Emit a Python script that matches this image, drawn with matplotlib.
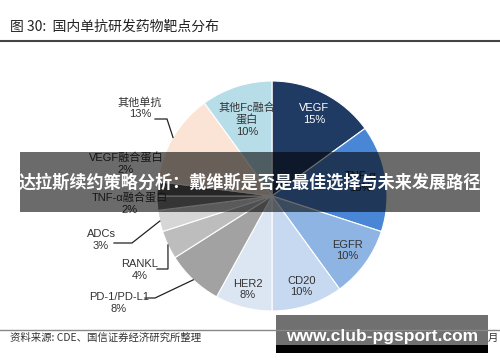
import numpy as np
import matplotlib
matplotlib.use("Agg")
import matplotlib.pyplot as plt
from matplotlib.patches import Rectangle

plt.rcParams['font.family'] = ['Liberation Sans', 'Noto Sans CJK SC', 'DejaVu Sans']

# ---- data ----
categories = ["VEGF", "TNF-α", "EGFR", "CD20", "HER2", "PD-1/PD-L1", "RANKL",
              "ADCs", "TNF-α融合蛋白", "VEGF融合蛋白", "其他单抗", "其他Fc融合蛋白"]
shares = [15, 15, 10, 10, 8, 8, 4, 3, 2, 2, 13, 10]
colors = ["#1F3B64", "#4A86D6", "#8EB4E3", "#C6D9F0", "#DCE6F2", "#A2A2A2",
          "#BDBDBD", "#D6D6D6", "#7F7F7F", "#5C5C5C", "#FBE4D5", "#B7DDE8"]
title = "图 30:  国内单抗研发药物靶点分布"
source = "资料来源: CDE、国信证券经济研究所整理"
banner = "达拉斯续约策略分析：戴维斯是否是最佳选择与未来发展路径"
watermark = "www.club-pgsport.com"

W, H = 500, 362
CX, CY, R = 272, 196, 115

fig = plt.figure(figsize=(W / 100, H / 100), dpi=100)
fig.patch.set_facecolor("white")

pax = fig.add_axes([(CX - R) / W, (H - CY - R) / H, 2 * R / W, 2 * R / H])
wedges, _ = pax.pie(shares, colors=colors, startangle=90, counterclock=False,
                    radius=1, wedgeprops=dict(edgecolor="white", linewidth=0.8))
pax.set_xlim(-1, 1)
pax.set_ylim(-1, 1)
pax.axis("off")


def px2d(px, py):
    return (px - CX) / R, (CY - py) / R


def mid(w, r):
    a = np.deg2rad((w.theta1 + w.theta2) / 2)
    return r * np.cos(a), r * np.sin(a)


# inner labels
inner = {"VEGF": (0.8, "white", "VEGF\n15%"),
         "TNF-α": (0.78, "#1a1a1a", "TNF-α\n15%"),
         "EGFR": (0.81, "#333333", "EGFR\n10%"),
         "CD20": (0.83, "#333333", "CD20\n10%"),
         "HER2": (0.84, "#333333", "HER2\n8%"),
         "其他Fc融合蛋白": (0.7, "#333333", "其他Fc融合\n蛋白\n10%")}
for w, cat, s in zip(wedges, categories, shares):
    if cat in inner:
        r, c, t = inner[cat]
        x, y = mid(w, r)
        pax.text(x, y, t, ha="center", va="center", fontsize=8, color=c,
                 linespacing=1.15)

# outer labels (pixel positions) and leader elbows
outer = {"其他单抗": ((140, 108), [(155, 119), (167, 119)]),
         "VEGF融合蛋白": ((126, 164), None),
         "TNF-α融合蛋白": ((130, 204), None),
         "ADCs": ((101, 240), [(114, 243), (132, 243)]),
         "RANKL": ((140, 270), [(157, 269), (168, 269)]),
         "PD-1/PD-L1": ((119, 303), [(145, 298), (155, 298)])}
for w, cat, s in zip(wedges, categories, shares):
    if cat in outer:
        (tx, ty), elbow = outer[cat]
        x, y = px2d(tx, ty)
        pax.text(x, y, f"{cat}\n{s}%", ha="center", va="center", fontsize=8,
                 color="#333333", linespacing=1.15, clip_on=False)
        if elbow:
            pts = [px2d(*p) for p in elbow] + [mid(w, 1.0)]
            pax.plot([p[0] for p in pts], [p[1] for p in pts], color="#222222",
                     lw=0.9, clip_on=False, solid_joinstyle="miter")

# overlay in pixel coords
ov = fig.add_axes([0, 0, 1, 1], zorder=5)
ov.set_xlim(0, W)
ov.set_ylim(H, 0)
ov.axis("off")
ov.patch.set_alpha(0)

ov.text(10, 27, title, ha="left", va="center", fontsize=10, color="#222222",
        family=['Noto Sans CJK SC', 'DejaVu Sans'])
ov.plot([0, W], [41, 41], color="#444444", lw=1.5)
ov.plot([0, W], [330, 330], color="#888888", lw=1.0)
ov.text(10, 338, source, ha="left", va="center", fontsize=7.5, color="#333333",
        family=['Noto Sans CJK SC', 'DejaVu Sans'])
ov.text(488, 338, "月", ha="left", va="center", fontsize=7.5, color="#333333",
        family=['Noto Sans CJK SC', 'DejaVu Sans'])

ov.add_patch(Rectangle((20, 152), 460, 60, facecolor="black", alpha=0.58,
                       edgecolor="none"))
ov.text(250, 183, banner, ha="center", va="center", fontsize=12.3,
        color="white", fontweight="bold",
        family=['Noto Sans CJK SC', 'DejaVu Sans'])

ov.add_patch(Rectangle((276, 315), 212, 30, facecolor="#6b6b6b", alpha=0.97,
                       edgecolor="none"))
ov.add_patch(Rectangle((276, 345), 212, 8, facecolor="black", edgecolor="none"))
ov.text(382, 336, watermark, ha="center", va="center", fontsize=12.5,
        color="white", fontweight="bold", family=['Liberation Sans'])

fig.savefig("out.png", dpi=100, facecolor="white")
